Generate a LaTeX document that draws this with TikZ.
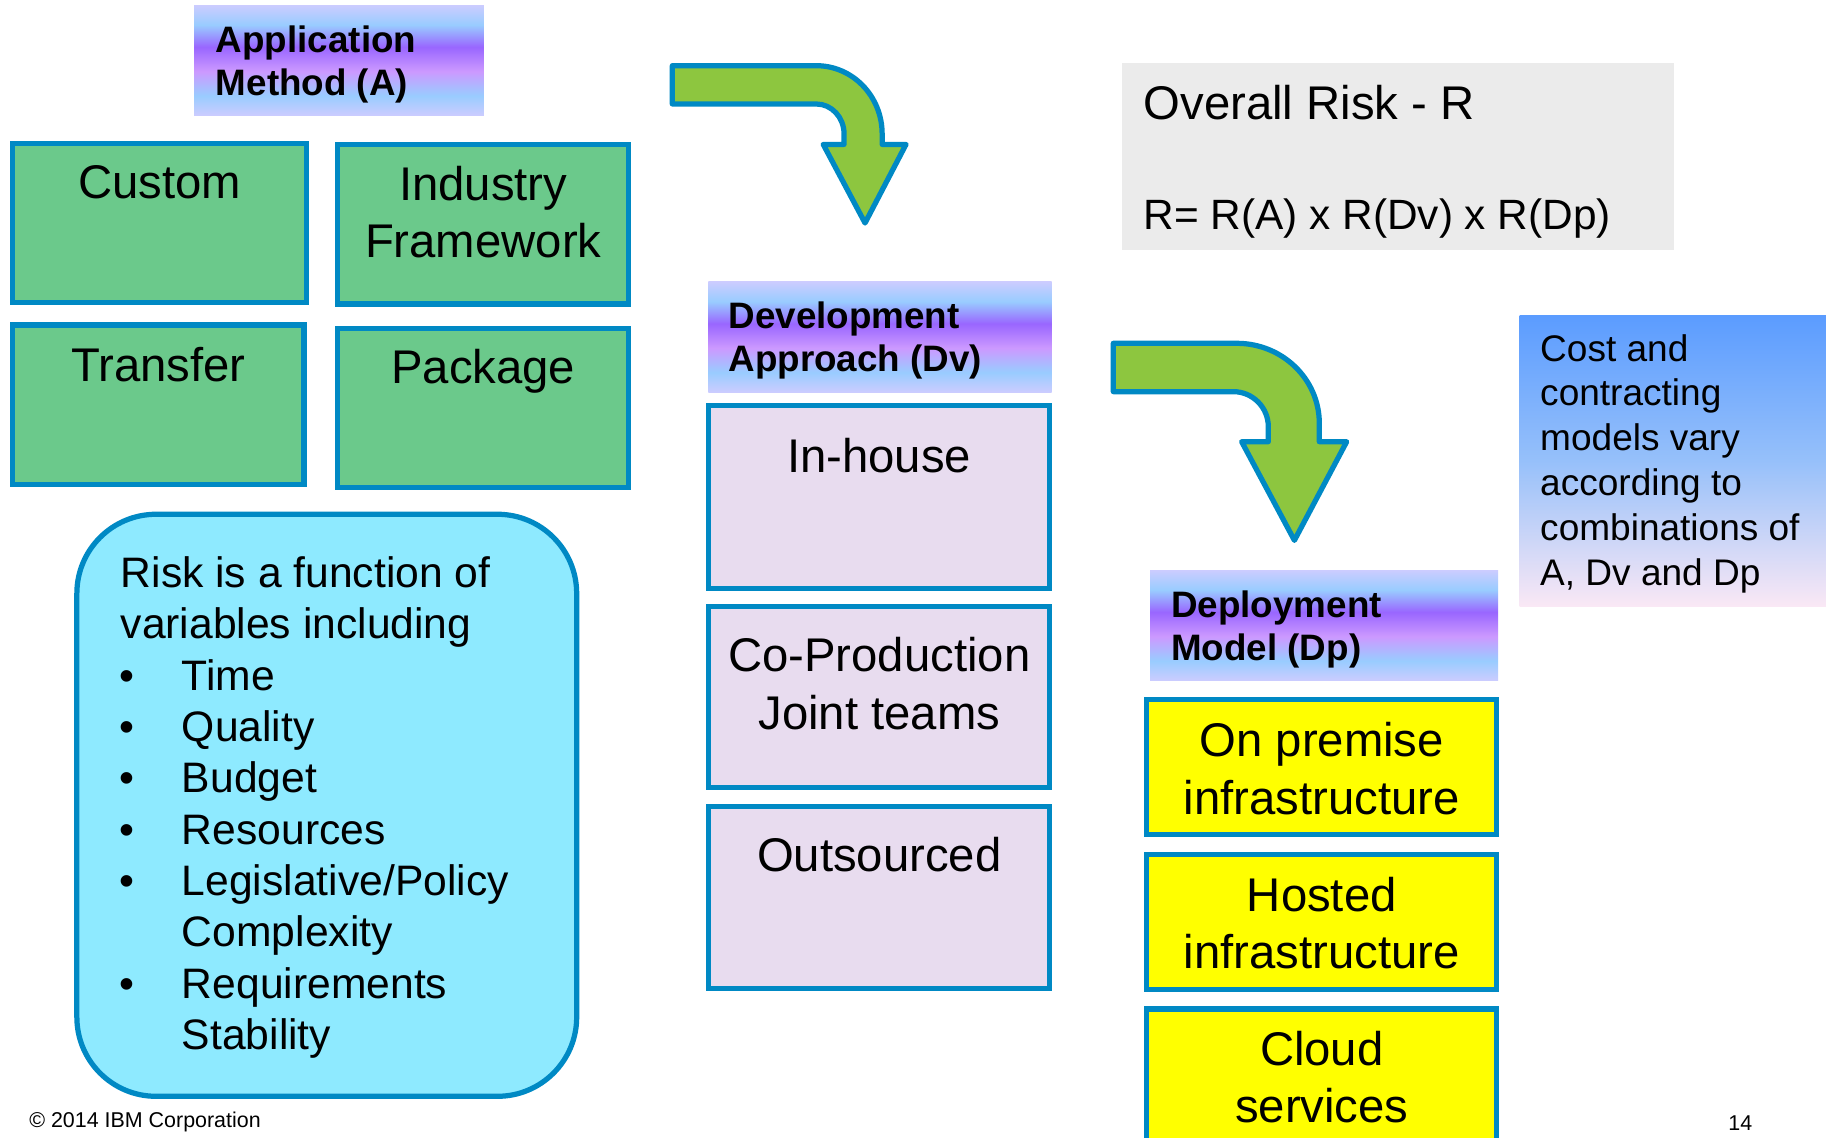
\documentclass[tikz,border=0pt]{standalone}
\usepackage{fontspec}
\setmainfont{Liberation Sans}
\usetikzlibrary{fit}
\definecolor{bdr}{RGB}{0,137,196}
\definecolor{gfill}{RGB}{107,201,139}
\definecolor{agreen}{RGB}{141,198,63}
\definecolor{cyanf}{RGB}{142,234,255}
\definecolor{pinkf}{RGB}{232,220,239}
\definecolor{grayf}{RGB}{235,235,235}
\definecolor{yfill}{RGB}{255,255,0}
\definecolor{hlav}{RGB}{204,204,255}
\definecolor{hblue}{RGB}{153,204,255}
\definecolor{hpurp}{RGB}{153,102,255}
\definecolor{hlilac}{RGB}{204,153,255}
\definecolor{rtop}{RGB}{91,156,255}
\definecolor{rmid}{RGB}{150,192,250}
\definecolor{rbot}{RGB}{250,232,245}
\pgfdeclareverticalshading{hdrshade}{100bp}{color(0bp)=(hlav); color(25bp)=(hlav); color(34bp)=(hblue); color(45bp)=(hlilac); color(56bp)=(hpurp); color(66bp)=(hblue); color(75bp)=(hlav); color(100bp)=(hlav)}
\tikzset{
  boxbase/.style={draw=bdr, line width=4.5pt, inner sep=0pt},
  gbox/.style={boxbase, fill=gfill},
  pbox/.style={boxbase, fill=pinkf},
  ybox/.style={boxbase, fill=yfill},
  hdrbox/.style={shade, shading=hdrshade, inner sep=0pt},
  bigt/.style={font=\fontsize{40.6}{49}\selectfont, inner sep=0pt, anchor=base},
  hdrt/.style={font=\bfseries\fontsize{31.6}{37}\selectfont, inner sep=0pt, anchor=base west},
  riskt/.style={font=\fontsize{36.6}{44}\selectfont, inner sep=0pt, anchor=base west},
  bult/.style={font=\fontsize{36.6}{44}\selectfont, inner sep=0pt, anchor=base},
  cbt/.style={font=\fontsize{31.8}{38}\selectfont, inner sep=0pt, anchor=base west},
  smallt/.style={font=\fontsize{18.4}{22}\selectfont, inner sep=0pt, anchor=base west},
  bendarrow/.style={draw=bdr, line width=4.5pt, fill=agreen, line join=round}
}
\begin{document}
\begin{tikzpicture}[x=1pt,y=-1pt]
\useasboundingbox (0,0) rectangle (1568,977);
\clip (0,0) rectangle (1568,977);
\fill[white] (0,0) rectangle (1568,977);

% ---- Application Method ----
\node[hdrbox, fit={(166.6,4.3) (415.6,99.3)}] (apph) {};
\node[hdrt] (apph1) at (185.2,44.9) {Application};
\node[hdrt] (apph2) at (185.2,81.6) {Method (A)};

\node[gbox, fit={(11,123) (263,259.5)}] (custom) {};
\node[bigt] (customt) at (137,170.7) {Custom};
\node[gbox, fit={(290,124) (540,261)}] (industry) {};
\node[bigt] (industryt1) at (415,172.3) {Industry};
\node[bigt] (industryt2) at (415,221.3) {Framework};
\node[gbox, fit={(11,279) (261,416)}] (transfer) {};
\node[bigt] (transfert) at (136,327.2) {Transfer};
\node[gbox, fit={(290,282) (540,418.5)}] (package) {};
\node[bigt] (packaget) at (415,329.4) {Package};

% ---- Risk box ----
\node[draw=bdr, line width=4.5pt, fill=cyanf, rounded corners=68pt, inner sep=0pt, fit={(66,441.6) (495.2,941.4)}] (riskbox) {};
\node[riskt] (r0) at (103.5,504.3) {Risk is a function of};
\node[riskt] (r1) at (103.5,548.4) {variables including};
\foreach \k in {2,3,4,5,6,8}
  \node[bult] (rb\k) at (109,{504.3+44.1*\k}) {•};
\node[riskt] (r2) at (156,592.5) {Time};
\node[riskt] (r3) at (156,636.6) {Quality};
\node[riskt] (r4) at (156,680.7) {Budget};
\node[riskt] (r5) at (156,724.8) {Resources};
\node[riskt] (r6) at (156,768.9) {Legislative/Policy};
\node[riskt] (r7) at (156,813.0) {Complexity};
\node[riskt] (r8) at (156,857.1) {Requirements};
\node[riskt] (r9) at (156,901.2) {Stability};

% ---- Arrow 1 ----
\draw[bendarrow] (577.3,56.4) -- (701,56.4) .. controls (732.2,56.4) and (757.5,82.6) .. (757.5,115)
  -- (757.5,124) -- (778,124) -- (742.8,191.5) -- (706.9,124) -- (724.8,124) -- (724.8,115)
  .. controls (724.8,100.8) and (714.1,89.3) .. (701,89.3) -- (577.3,89.3) -- cycle;

% ---- Development Approach ----
\node[hdrbox, fit={(608.3,241.9) (903.1,336.9)}] (devh) {};
\node[hdrt] (devh1) at (625.4,282.5) {Development};
\node[hdrt] (devh2) at (625.4,319.2) {Approach (Dv)};

\node[pbox, fit={(608.5,348.5) (901.5,505.6)}] (inhouse) {};
\node[bigt] (inhouset) at (755,406) {In-house};
\node[pbox, fit={(608.5,521) (901.5,676.5)}] (coprod) {};
\node[bigt] (coprodt1) at (755,576.8) {Co-Production};
\node[bigt] (coprodt2) at (755,626.6) {Joint teams};
\node[pbox, fit={(608.5,692.7) (901.5,848.5)}] (outs) {};
\node[bigt] (outst) at (755,748.2) {Outsourced};

% ---- Overall risk ----
\node[fill=grayf, inner sep=0pt, fit={(963.5,54.2) (1437.5,215)}] (overall) {};
\node[bigt, anchor=base west] (overall1) at (981.8,103) {Overall Risk - R};
\node[inner sep=0pt, anchor=base west, font=\fontsize{36.4}{44}\selectfont] (overall2) at (981.8,196.9) {R= R(A) x R(Dv) x R(Dp)};

% ---- Arrow 2 ----
\draw[bendarrow] (956,294.8) -- (1062,294.8) .. controls (1101.2,294.8) and (1132.9,325.6) .. (1132.9,363.5)
  -- (1132.9,379.3) -- (1156.4,379.3) -- (1111.5,464) -- (1066.2,379.3) -- (1089.1,379.3) -- (1089.1,366.4)
  .. controls (1089.1,349.8) and (1075.6,336.3) .. (1059,336.3) -- (956,336.3) -- cycle;

% ---- Cost box ----
\node[inner sep=0pt, top color=rtop, bottom color=rbot, middle color=rmid, fit={(1305,270.5) (1568,520.7)}] (costbox) {};
\foreach \t [count=\i from 0] in {Cost and, contracting, models vary, according to, combinations of, {A, Dv and Dp}}
  \node[cbt] (cb\i) at (1322.4,{310+38.5*\i}) {\t};

% ---- Deployment Model ----
\node[hdrbox, fit={(987.5,489.5) (1286.5,584.6)}] (deph) {};
\node[hdrt] (deph1) at (1005.5,530.1) {Deployment};
\node[hdrt] (deph2) at (1005.5,566.8) {Model (Dp)};

\node[ybox, fit={(984.8,600.8) (1285.2,716.4)}] (onprem) {};
\node[bigt] (onpremt1) at (1135,650) {On premise};
\node[bigt] (onpremt2) at (1135,699) {infrastructure};
\node[ybox, fit={(984.8,734) (1285.2,849.4)}] (hosted) {};
\node[bigt] (hostedt1) at (1135,783.1) {Hosted};
\node[bigt] (hostedt2) at (1135,831.4) {infrastructure};
\node[ybox, fit={(984.8,866.4) (1285.2,1000)}] (cloud) {};
\node[bigt] (cloudt1) at (1135,914.9) {Cloud};
\node[bigt] (cloudt2) at (1135,963.8) {services};

% ---- footer ----
\node[smallt] (copy) at (25,968.5) {© 2014 IBM Corporation};
\node[smallt] (pagenum) at (1484,971) {14};
\end{tikzpicture}
\end{document}
